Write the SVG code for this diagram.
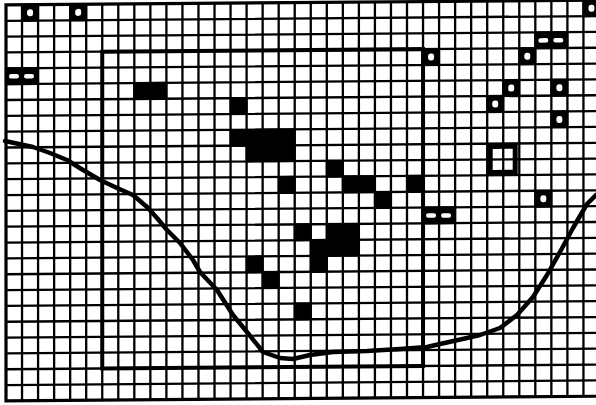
<svg xmlns="http://www.w3.org/2000/svg" xmlns:xlink="http://www.w3.org/1999/xlink" width="596" height="405" viewBox="0 0 596 405">
<style>
.bg{fill:#fff}
.grid{stroke:#000;stroke-width:2.3;fill:none}
.border{stroke:#000;stroke-width:3.2;fill:none}
.frame{stroke:#000;stroke-width:4;fill:none}
.blk{fill:#000}
.w{fill:#fff}
.curve{stroke:#000;stroke-width:4.5;fill:none;stroke-linejoin:round;stroke-linecap:round}
.win{stroke:#000;stroke-width:5;fill:none}
</style>
<defs>
<g id="oc"><rect class="blk" x="-1" y="-1" width="18.04" height="17.84"/><rect class="w" x="5" y="4.5" width="6" height="7" rx="2.5"/></g>
<g id="eq"><rect class="blk" x="-1" y="-1" width="34.08" height="17.84"/><rect class="w" x="3" y="5.8" width="10" height="4.5" rx="2.2"/><rect class="w" x="18" y="5.8" width="10" height="4.5" rx="2.2"/></g>
</defs>
<rect class="bg" x="0" y="0" width="596" height="405"/>
<g id="sheet" transform="matrix(1,-0.008,0,1,0,0)">
<g id="grid">
<path class="grid" d="M22.04 5V401M38.08 5V401M54.12 5V401M70.16 5V401M86.2 5V401M102.24 5V401M118.28 5V401M134.32 5V401M150.36 5V401M166.4 5V401M182.44 5V401M198.48 5V401M214.52 5V401M230.56 5V401M246.6 5V401M262.64 5V401M278.68 5V401M294.72 5V401M310.76 5V401M326.8 5V401M342.84 5V401M358.88 5V401M374.92 5V401M390.96 5V401M407 5V401M423.04 5V401M439.08 5V401M455.12 5V401M471.16 5V401M487.2 5V401M503.24 5V401M519.28 5V401M535.32 5V401M551.36 5V401M567.4 5V401M583.44 5V401"/>
<path class="grid" d="M6 20.84H600M6 36.68H600M6 52.52H600M6 68.36H600M6 84.2H600M6 100.04H600M6 115.88H600M6 131.72H600M6 147.56H600M6 163.4H600M6 179.24H600M6 195.08H600M6 210.92H600M6 226.76H600M6 242.6H600M6 258.44H600M6 274.28H600M6 290.12H600M6 305.96H600M6 321.8H600M6 337.64H600M6 353.48H600M6 369.32H600M6 385.16H600"/>
<path class="border" d="M600 5H6V401H600"/>
</g>
<g id="cells">
<rect class="blk" x="133.3" y="83.2" width="34.08" height="17.84"/>
<rect class="blk" x="229.56" y="99.04" width="18.04" height="17.84"/>
<rect class="blk" x="229.56" y="130.72" width="66.16" height="17.84"/>
<rect class="blk" x="245.6" y="146.56" width="50.12" height="17.84"/>
<rect class="blk" x="325.8" y="162.4" width="18.04" height="17.84"/>
<rect class="blk" x="277.68" y="178.24" width="18.04" height="17.84"/>
<rect class="blk" x="341.84" y="178.24" width="34.08" height="17.84"/>
<rect class="blk" x="406" y="178.24" width="18.04" height="17.84"/>
<rect class="blk" x="373.92" y="194.08" width="18.04" height="17.84"/>
<rect class="blk" x="293.72" y="225.76" width="18.04" height="17.84"/>
<rect class="blk" x="325.8" y="225.76" width="34.08" height="17.84"/>
<rect class="blk" x="309.76" y="241.6" width="50.12" height="17.84"/>
<rect class="blk" x="245.6" y="257.44" width="18.04" height="17.84"/>
<rect class="blk" x="309.76" y="257.44" width="18.04" height="17.84"/>
<rect class="blk" x="261.64" y="273.28" width="18.04" height="17.84"/>
<rect class="blk" x="293.72" y="304.96" width="18.04" height="17.84"/>
</g>
<g id="frame"><rect class="frame" x="102.24" y="52.52" width="320.8" height="316.8"/></g>
<g id="markers">
<use xlink:href="#oc" x="22.04" y="5"/>
<use xlink:href="#oc" x="70.16" y="5"/>
<use xlink:href="#oc" x="583.44" y="5"/>
<use xlink:href="#oc" x="423.04" y="52.52"/>
<use xlink:href="#oc" x="519.28" y="52.52"/>
<use xlink:href="#oc" x="503.24" y="84.2"/>
<use xlink:href="#oc" x="551.36" y="84.2"/>
<use xlink:href="#oc" x="487.2" y="100.04"/>
<use xlink:href="#oc" x="551.36" y="115.88"/>
<use xlink:href="#oc" x="535.32" y="195.08"/>
<use xlink:href="#eq" x="6" y="68.36"/>
<use xlink:href="#eq" x="535.32" y="36.68"/>
<use xlink:href="#eq" x="423.04" y="210.92"/>
<rect class="win" x="490.2" y="150.4" width="25" height="26"/>
</g>
</g>
<g id="connectors">
<polyline class="curve" points="5,141 33,147 50,153 67,160 83,170 100,180 117,188 133,195 147,207 157,218 167,230 180,243 193,260 200,272 217,290 233,315 247,332 263,352 280,358 293,359 310,355 333,352 367,351 400,349 427,347 440,344 467,338 480,335 500,328 517,315 533,297 547,275 560,252 573,228 587,204 596,195"/>
</g>
</svg>
